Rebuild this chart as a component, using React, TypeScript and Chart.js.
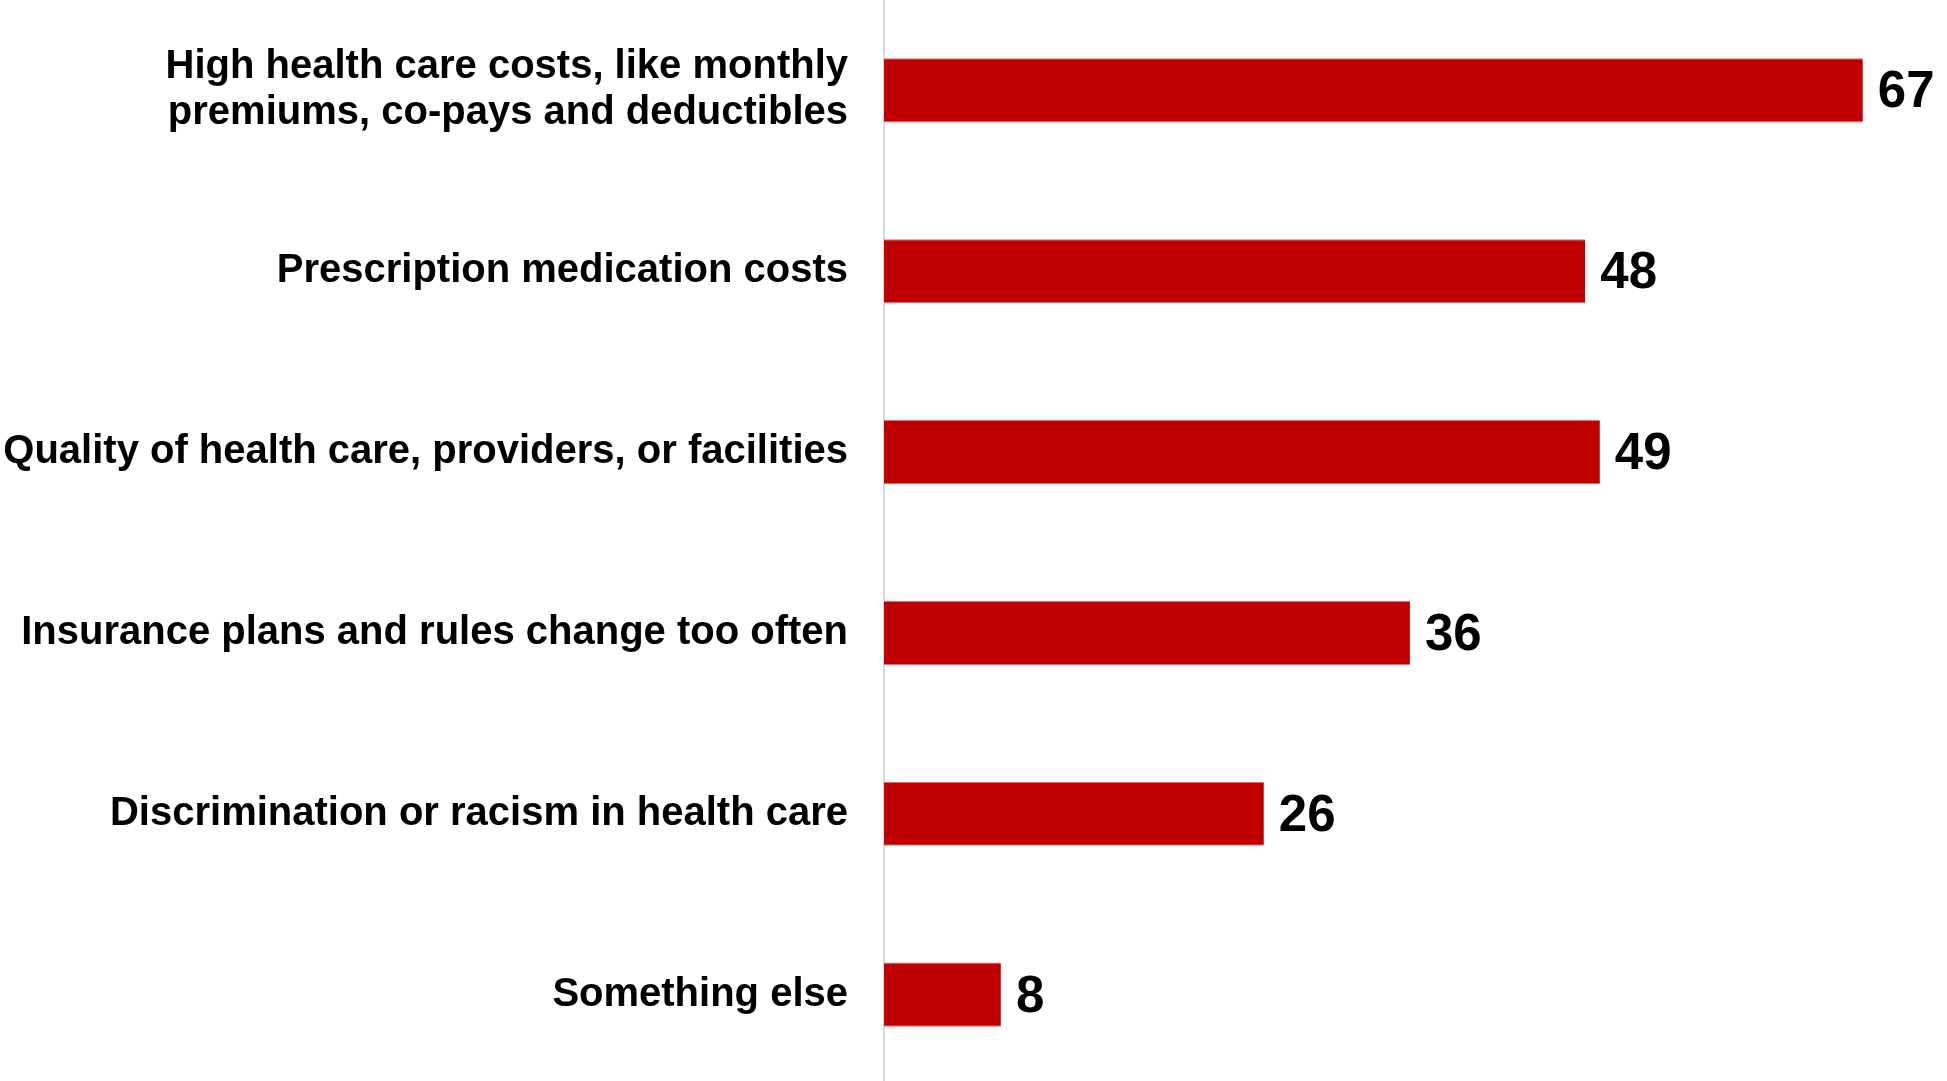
import React, { useEffect, useRef } from "react";
import { Chart, registerables } from "chart.js";

Chart.register(...registerables);

const categories: (string | string[])[] = [
  ["High health care costs, like monthly", "premiums, co-pays and deductibles"],
  "Prescription medication costs",
  "Quality of health care, providers, or facilities",
  "Insurance plans and rules change too often",
  "Discrimination or racism in health care",
  "Something else",
];
const values: number[] = [67, 48, 49, 36, 26, 8];
const valueLabels: string[] = ["67", "48", "49", "36", "26", "8"];

const FONT = "'Liberation Sans', Arial, Helvetica, sans-serif";

export default function App() {
  const ref = useRef<HTMLCanvasElement | null>(null);
  useEffect(() => {
    if (!ref.current) return;
    const labelPlugin = {
      id: "valueLabels",
      afterDatasetsDraw(chart: any) {
        const ctx = chart.ctx;
        const meta = chart.getDatasetMeta(0);
        ctx.save();
        ctx.font = `bold 51px ${FONT}`;
        ctx.fillStyle = "#000000";
        ctx.textAlign = "left";
        ctx.textBaseline = "middle";
        meta.data.forEach((bar: any, i: number) => {
          ctx.fillText(valueLabels[i], bar.x + 15, bar.y + 3);
        });
        ctx.restore();
      },
    };
    const chart = new Chart(ref.current, {
      type: "bar",
      data: {
        labels: categories,
        datasets: [
          {
            data: values,
            backgroundColor: "#C00000",
            borderColor: "#E07070",
            borderWidth: { top: 1, bottom: 1, left: 0, right: 0 } as any,
            borderSkipped: false,
            categoryPercentage: 1,
            barPercentage: 0.355,
          },
        ],
      },
      options: {
        indexAxis: "y",
        responsive: false,
        animation: false,
        layout: { padding: 0 },
        plugins: {
          legend: { display: false },
          tooltip: { enabled: false },
        },
        scales: {
          x: {
            display: false,
            min: 0,
            max: 72.76,
          },
          y: {
            afterFit(scale: any) {
              scale.width = 884;
              scale.paddingTop = 0;
              scale.paddingBottom = 0;
            },
            grid: { display: false, drawTicks: false },
            border: { display: true, color: "#D9D9D9", width: 2 },
            ticks: {
              color: "#000000",
              padding: 36,
              font: { family: FONT, size: 40, weight: "bold", lineHeight: 1.15 },
            },
          },
        },
      },
      plugins: [labelPlugin],
    });
    return () => chart.destroy();
  }, []);
  return (
    <div style={{ position: "fixed", left: 0, top: 0, width: 1947, height: 1085, background: "#fff" }}>
      <canvas ref={ref} width={1947} height={1085} style={{ display: "block" }} />
    </div>
  );
}
